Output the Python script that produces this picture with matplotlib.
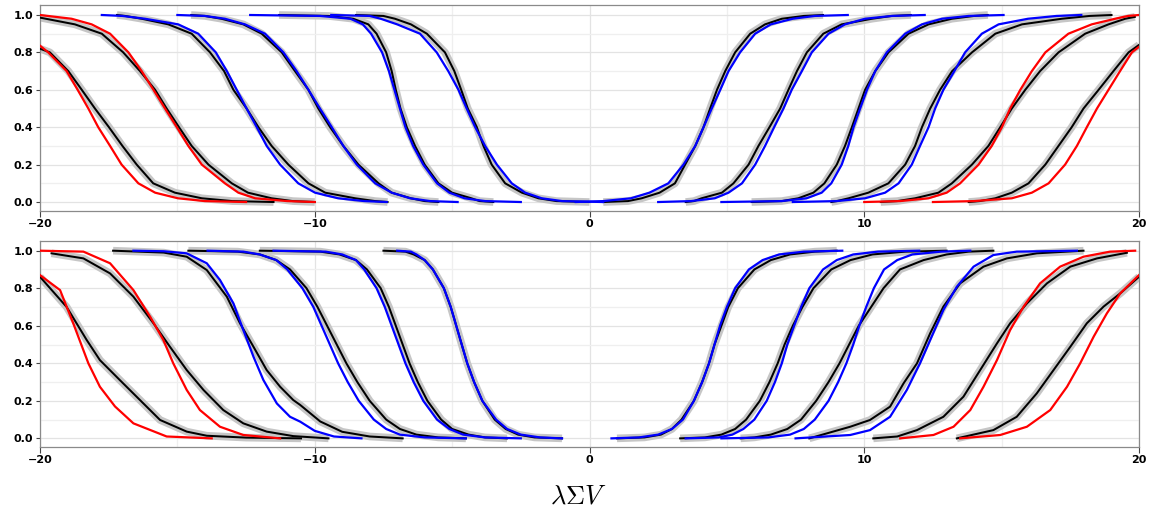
import matplotlib
matplotlib.use("Agg")
import matplotlib.pyplot as plt
from matplotlib.ticker import MultipleLocator

plt.rcParams['mathtext.fontset'] = 'cm'

# ---------------- data ----------------
DOWN = [1.0, 0.995, 0.98, 0.95, 0.9, 0.8, 0.7, 0.6, 0.5, 0.4, 0.3, 0.2, 0.1, 0.05, 0.02, 0.005, 0.0]
UP = DOWN[::-1]

# ---- top panel, left (decreasing) ----
top_red1_x = [-20.0, -19.70, -19.03, -18.63, -18.24, -17.88, -17.45, -17.03, -16.42, -15.81, -14.98, -14.0, -12.5]
top_red1_y = [0.836, 0.8, 0.7, 0.6, 0.5, 0.4, 0.3, 0.2, 0.1, 0.05, 0.02, 0.005, 0.0]
top_blk1_x = [-20.0, -19.64, -18.97, -18.48, -18.0, -17.49, -17.0, -16.48, -15.88, -15.09, -14.11, -13.0, -11.5]
top_blk1_y = [0.82, 0.8, 0.7, 0.6, 0.5, 0.4, 0.3, 0.2, 0.1, 0.05, 0.02, 0.005, 0.0]
top_red2_x = [-20.0, -18.85, -18.12, -17.45, -16.78, -16.30, -15.87, -15.45, -15.02, -14.6, -14.11, -13.27, -12.78, -12.17, -11.0, -10.0]
top_red2_y = [1.0, 0.98, 0.95, 0.9, 0.8, 0.7, 0.6, 0.5, 0.4, 0.3, 0.2, 0.1, 0.05, 0.02, 0.005, 0.0]
top_blk2_x = [-20.0, -18.73, -17.75, -16.97, -16.36, -15.81, -15.39, -14.94, -14.48, -13.87, -13.02, -12.43, -11.57, -10.8, -10.0]
top_blk2_y = [0.986, 0.95, 0.9, 0.8, 0.7, 0.6, 0.5, 0.4, 0.3, 0.2, 0.1, 0.05, 0.02, 0.005, 0.0]
top_blue3_x = [-17.75, -17.0, -16.18, -14.97, -14.24, -13.6, -13.2, -12.84, -12.48, -12.11, -11.75, -11.26, -10.6, -9.99, -9.15, -8.2, -7.38]
top_blk3_x = [-17.2, -16.9, -16.3, -15.33, -14.48, -13.81, -13.3, -12.96, -12.48, -12.05, -11.57, -10.96, -10.23, -9.62, -8.53, -7.8, -7.35]
top_blue4_x = [-15.0, -14.0, -13.27, -12.54, -11.81, -11.14, -10.66, -10.23, -9.81, -9.38, -8.96, -8.47, -7.8, -7.2, -6.53, -5.8, -4.8]
top_blk4_x = [-14.5, -14.0, -13.4, -12.6, -11.93, -11.2, -10.72, -10.23, -9.87, -9.44, -8.96, -8.41, -7.68, -7.2, -6.5, -6.0, -5.5]
top_blue5_x = [-12.35, -9.8, -8.7, -8.25, -7.95, -7.55, -7.3, -7.1, -6.9, -6.7, -6.42, -6.05, -5.55, -5.1, -4.55, -3.8, -2.5]
top_blk5_x = [-11.3, -9.5, -8.6, -8.05, -7.75, -7.4, -7.2, -7.05, -6.88, -6.65, -6.35, -6.0, -5.5, -5.0, -4.3, -4.0, -3.5]
top_blue6_x = [-9.4, -8.0, -7.6, -7.0, -6.17, -5.56, -5.14, -4.77, -4.47, -4.16, -3.8, -3.37, -2.83, -2.34, -1.74, -1.0, 0.5]
top_blk6_x = [-8.5, -7.5, -7.08, -6.5, -5.92, -5.26, -4.92, -4.67, -4.43, -4.1, -3.86, -3.56, -3.07, -2.46, -1.86, -1.2, 0.0]

# ---- top panel, right (increasing) ----
top_blue7_x = [-0.5, 0.5, 1.51, 2.18, 2.87, 3.42, 3.85, 4.15, 4.45, 4.76, 5.06, 5.48, 6.03, 6.6, 7.4, 8.2, 9.4]
top_blk7_x = [0.5, 1.4, 1.9, 2.55, 3.11, 3.48, 3.85, 4.15, 4.39, 4.64, 4.94, 5.3, 5.85, 6.39, 7.0, 7.8, 8.5]
top_blue8_x = [2.5, 3.7, 4.56, 5.06, 5.55, 6.03, 6.39, 6.72, 7.06, 7.36, 7.73, 8.09, 8.7, 9.3, 10.03, 11.0, 12.2]
top_blk8_x = [3.5, 3.8, 4.08, 4.82, 5.24, 5.79, 6.15, 6.55, 6.94, 7.24, 7.55, 7.91, 8.51, 9.18, 10.28, 11.0, 11.7]
top_blue9_x = [4.8, 7.0, 7.9, 8.45, 8.8, 9.18, 9.42, 9.61, 9.85, 10.1, 10.4, 10.82, 11.49, 12.1, 12.83, 13.8, 15.07]
top_blk9_x = [5.9, 7.0, 7.6, 8.15, 8.55, 9.0, 9.3, 9.55, 9.79, 10.03, 10.4, 10.88, 11.61, 12.34, 13.19, 14.0, 14.5]
top_blue10_x = [7.4, 9.0, 10.03, 10.76, 11.25, 11.73, 12.03, 12.34, 12.58, 12.88, 13.28, 13.67, 14.28, 14.89, 15.96, 17.0, 17.9]
top_blk10_x = [8.8, 9.0, 9.43, 10.15, 10.88, 11.49, 11.85, 12.1, 12.4, 12.76, 13.2, 13.92, 14.77, 15.74, 17.19, 18.2, 19.0]
top_red11_x = [10.0, 11.3, 12.34, 13.0, 13.49, 14.16, 14.64, 15.01, 15.31, 15.68, 16.1, 16.59, 17.43, 18.28, 19.13, 19.6, 20.0]
top_blk11_x = [10.6, 11.2, 11.85, 12.7, 13.19, 13.92, 14.52, 14.95, 15.37, 15.86, 16.4, 17.07, 18.04, 18.89, 19.5, 19.85]
top_blk11_y = [0.0, 0.005, 0.02, 0.05, 0.1, 0.2, 0.3, 0.4, 0.5, 0.6, 0.7, 0.8, 0.9, 0.95, 0.98, 0.99]
top_red12_x = [12.5, 14.0, 15.37, 16.1, 16.71, 17.31, 17.74, 18.1, 18.47, 18.89, 19.31, 19.74, 20.0]
top_red12_y = [0.0, 0.005, 0.02, 0.05, 0.1, 0.2, 0.3, 0.4, 0.5, 0.6, 0.7, 0.8, 0.83]
top_blk12_x = [13.8, 14.2, 14.77, 15.37, 15.98, 16.59, 17.07, 17.55, 17.98, 18.53, 19.07, 19.62, 20.0]
top_blk12_y = [0.0, 0.005, 0.02, 0.05, 0.1, 0.2, 0.3, 0.4, 0.5, 0.6, 0.7, 0.8, 0.84]

# ---- bottom panel, left (decreasing) ----
bot_red1_x = [-20.0, -19.27, -18.79, -18.24, -17.82, -17.27, -16.6, -15.39, -13.75]
bot_red1_y = [0.87, 0.79, 0.613, 0.4, 0.275, 0.17, 0.08, 0.01, 0.0]
bot_blk1_x = [-20.0, -19.03, -18.3, -17.82, -17.09, -16.36, -15.63, -14.66, -13.93, -12.5, -10.5]
bot_blk1_y = [0.861, 0.70, 0.524, 0.417, 0.31, 0.204, 0.098, 0.036, 0.014, 0.004, 0.0]
bot_red2_x = [-20.0, -18.42, -17.45, -16.6, -15.99, -15.51, -15.15, -14.66, -14.18, -13.45, -12.6, -11.26]
bot_red2_y = [1.0, 0.995, 0.933, 0.79, 0.648, 0.524, 0.4, 0.258, 0.151, 0.062, 0.018, 0.0]
bot_blk2_x = [-19.58, -18.42, -17.45, -16.6, -15.87, -15.27, -14.66, -14.05, -13.33, -12.6, -11.75, -10.78, -9.5]
bot_blk2_y = [0.986, 0.959, 0.879, 0.755, 0.613, 0.488, 0.364, 0.258, 0.151, 0.08, 0.036, 0.012, 0.0]
bot_blue3_x = [-16.6, -15.5, -14.66, -13.93, -13.45, -12.96, -12.6, -12.23, -11.87, -11.38, -10.9, -10.53, -10.0, -9.3, -8.3]
bot_blue3_y = [1.0, 0.997, 0.986, 0.933, 0.844, 0.719, 0.577, 0.435, 0.311, 0.186, 0.115, 0.089, 0.04, 0.01, 0.0]
bot_blk3_x = [-17.34, -15.5, -14.66, -13.93, -13.2, -12.72, -12.23, -11.75, -11.26, -10.78, -10.53, -9.8, -9.0, -8.0, -6.8]
bot_blk3_y = [1.0, 0.99, 0.968, 0.897, 0.755, 0.613, 0.488, 0.364, 0.275, 0.204, 0.178, 0.09, 0.035, 0.01, 0.0]
bot_blue4_x = [-13.9, -12.6, -12.0, -11.4, -11.0, -10.45, -10.05, -9.75, -9.45, -9.15, -8.8, -8.4, -7.85, -7.4, -6.9, -6.0, -4.5]
bot_blk4_x = [-14.6, -12.8, -12.0, -11.4, -10.9, -10.3, -9.9, -9.55, -9.2, -8.85, -8.45, -8.0, -7.4, -6.9, -6.3, -5.5, -4.5]
bot_blue5_x = [-11.5, -9.6, -9.0, -8.5, -8.2, -7.75, -7.45, -7.2, -6.95, -6.7, -6.4, -6.05, -5.55, -5.1, -4.6, -3.8, -2.5]
bot_blk5_x = [-12.0, -9.8, -9.1, -8.5, -8.1, -7.6, -7.3, -7.05, -6.8, -6.55, -6.25, -5.9, -5.4, -5.0, -4.4, -3.8, -3.0]
bot_blue6_x = [-7.0, -6.5, -6.3, -6.0, -5.7, -5.3, -5.05, -4.85, -4.65, -4.45, -4.2, -3.9, -3.4, -3.0, -2.5, -1.8, -1.0]
bot_blk6_x = [-7.5, -6.7, -6.4, -6.0, -5.7, -5.3, -5.05, -4.85, -4.65, -4.45, -4.2, -3.9, -3.45, -3.05, -2.6, -2.0, -1.0]

# ---- bottom panel, right (increasing) ----
bot_blue7_x = [0.8, 1.8, 2.5, 3.0, 3.4, 3.8, 4.1, 4.35, 4.55, 4.75, 5.0, 5.3, 5.8, 6.3, 6.9, 7.8, 9.2]
bot_blk7_x = [1.0, 2.0, 2.6, 3.0, 3.35, 3.8, 4.1, 4.35, 4.55, 4.8, 5.05, 5.4, 6.0, 6.6, 7.3, 8.2, 9.0]
bot_blue8_x = [3.5, 4.7, 5.2, 5.6, 6.0, 6.45, 6.75, 7.0, 7.2, 7.45, 7.7, 8.0, 8.5, 9.0, 9.6, 10.5, 12.0]
bot_blk8_x = [3.3, 4.2, 4.8, 5.3, 5.7, 6.2, 6.55, 6.85, 7.1, 7.4, 7.75, 8.15, 8.8, 9.5, 10.3, 11.5, 13.0]
bot_blue9_x = [4.8, 6.5, 7.3, 7.8, 8.2, 8.7, 9.05, 9.35, 9.6, 9.82, 10.07, 10.35, 10.72, 11.2, 11.75, 12.8, 13.86]
bot_blk9_x = [5.5, 6.0, 6.6, 7.2, 7.7, 8.25, 8.7, 9.1, 9.45, 9.8, 10.25, 10.7, 11.3, 12.16, 13.0, 13.8, 14.7]
bot_blue10_x = [7.5, 9.49, 10.21, 10.94, 11.55, 12.03, 12.4, 12.88, 13.37, 13.98, 14.7, 15.55, 17.74]
bot_blue10_y = [0.0, 0.018, 0.044, 0.115, 0.258, 0.4, 0.524, 0.684, 0.808, 0.915, 0.977, 0.995, 1.0]
bot_blk10_x = [8.0, 9.49, 10.21, 10.94, 11.43, 11.92, 12.4, 12.88, 13.49, 14.34, 15.19, 16.28, 17.98]
bot_blk10_y = [0.0, 0.062, 0.098, 0.169, 0.293, 0.4, 0.56, 0.702, 0.826, 0.915, 0.959, 0.986, 1.0]
bot_red11_x = [11.31, 12.52, 13.25, 13.86, 14.34, 14.83, 15.31, 15.8, 16.4, 17.13, 17.98, 18.95, 19.86]
bot_red11_y = [0.0, 0.018, 0.062, 0.151, 0.275, 0.417, 0.577, 0.702, 0.826, 0.915, 0.968, 0.995, 1.0]
bot_blk11_x = [10.33, 11.2, 11.92, 12.88, 13.61, 14.22, 14.83, 15.31, 15.92, 16.65, 17.5, 18.47, 19.56]
bot_blk11_y = [0.0, 0.01, 0.044, 0.115, 0.222, 0.364, 0.506, 0.613, 0.719, 0.826, 0.915, 0.959, 0.989]
bot_red12_x = [13.49, 14.95, 15.92, 16.77, 17.38, 17.86, 18.35, 18.83, 19.32, 20.0]
bot_red12_y = [0.0, 0.018, 0.062, 0.151, 0.275, 0.4, 0.542, 0.666, 0.773, 0.87]
bot_blk12_x = [13.37, 14.7, 15.55, 16.28, 16.89, 17.5, 18.1, 18.71, 19.32, 20.0]
bot_blk12_y = [0.0, 0.044, 0.115, 0.24, 0.364, 0.488, 0.613, 0.702, 0.773, 0.861]

x_ticks = [-20, -10, 0, 10, 20]
x_ticklabels = ['\u221220', '\u221210', '0', '10', '20']
y_ticks = [0.0, 0.2, 0.4, 0.6, 0.8, 1.0]
y_ticklabels = ['0.0', '0.2', '0.4', '0.6', '0.8', '1.0']

top_pairs = [
    ('red', (top_red1_x, top_red1_y), (top_blk1_x, top_blk1_y)),
    ('red', (top_red2_x, top_red2_y), (top_blk2_x, top_blk2_y)),
    ('blue', (top_blue3_x, DOWN), (top_blk3_x, DOWN)),
    ('blue', (top_blue4_x, DOWN), (top_blk4_x, DOWN)),
    ('blue', (top_blue5_x, DOWN), (top_blk5_x, DOWN)),
    ('blue', (top_blue6_x, DOWN), (top_blk6_x, DOWN)),
    ('blue', (top_blue7_x, UP), (top_blk7_x, UP)),
    ('blue', (top_blue8_x, UP), (top_blk8_x, UP)),
    ('blue', (top_blue9_x, UP), (top_blk9_x, UP)),
    ('blue', (top_blue10_x, UP), (top_blk10_x, UP)),
    ('red', (top_red11_x, UP), (top_blk11_x, top_blk11_y)),
    ('red', (top_red12_x, top_red12_y), (top_blk12_x, top_blk12_y)),
]
bot_pairs = [
    ('red', (bot_red1_x, bot_red1_y), (bot_blk1_x, bot_blk1_y)),
    ('red', (bot_red2_x, bot_red2_y), (bot_blk2_x, bot_blk2_y)),
    ('blue', (bot_blue3_x, bot_blue3_y), (bot_blk3_x, bot_blk3_y)),
    ('blue', (bot_blue4_x, DOWN), (bot_blk4_x, DOWN)),
    ('blue', (bot_blue5_x, DOWN), (bot_blk5_x, DOWN)),
    ('blue', (bot_blue6_x, DOWN), (bot_blk6_x, DOWN)),
    ('blue', (bot_blue7_x, UP), (bot_blk7_x, UP)),
    ('blue', (bot_blue8_x, UP), (bot_blk8_x, UP)),
    ('blue', (bot_blue9_x, UP), (bot_blk9_x, UP)),
    ('blue', (bot_blue10_x, bot_blue10_y), (bot_blk10_x, bot_blk10_y)),
    ('red', (bot_red11_x, bot_red11_y), (bot_blk11_x, bot_blk11_y)),
    ('red', (bot_red12_x, bot_red12_y), (bot_blk12_x, bot_blk12_y)),
]

# ---------------- figure ----------------
fig = plt.figure(figsize=(11.5, 5.16), dpi=100)
ax_top = fig.add_axes([40 / 1150, 1 - 211 / 516, (1139 - 40) / 1150, 206 / 516])
ax_bot = fig.add_axes([40 / 1150, 1 - 447 / 516, (1139 - 40) / 1150, 205.5 / 516])

COLORS = {'red': '#ff0000', 'blue': '#0000ff'}


def style(ax, ylim):
    ax.set_xlim(-20, 20)
    ax.set_ylim(*ylim)
    ax.set_xticks(x_ticks)
    ax.set_xticklabels(x_ticklabels)
    ax.set_yticks(y_ticks)
    ax.set_yticklabels(y_ticklabels)
    ax.xaxis.set_minor_locator(MultipleLocator(5))
    ax.yaxis.set_minor_locator(MultipleLocator(0.1))
    ax.grid(which='major', color='#e3e3e3', lw=0.9)
    ax.grid(which='minor', color='#efefef', lw=0.9)
    ax.set_axisbelow(True)
    for s in ax.spines.values():
        s.set_color('#8a8a8a')
        s.set_linewidth(0.9)
    ax.tick_params(axis='both', which='major', labelsize=8, length=4, width=0.8,
                   color='#444444', pad=2)
    ax.tick_params(axis='both', which='minor', length=0)
    ax.tick_params(axis='y', length=3)
    for lab in ax.get_xticklabels() + ax.get_yticklabels():
        lab.set_fontweight('bold')


def draw(ax, pairs):
    for color, (tx, ty), (bx, by) in pairs:
        ax.plot(bx, by, color='#c6c6c6', lw=5.5, solid_capstyle='butt',
                solid_joinstyle='round', zorder=2)
    for color, (tx, ty), (bx, by) in pairs:
        ax.plot(bx, by, color='black', lw=1.45, solid_joinstyle='round', zorder=3)
    for color, (tx, ty), (bx, by) in pairs:
        ax.plot(tx, ty, color=COLORS[color], lw=1.6, solid_joinstyle='round', zorder=4)


draw(ax_top, top_pairs)
draw(ax_bot, bot_pairs)
style(ax_top, (-0.048, 1.0535))
style(ax_bot, (-0.046, 1.049))

fig.text(578 / 1150, 1 - 497 / 516, r'$\lambda\Sigma V$', fontsize=19,
         ha='center', va='center')

fig.savefig('out.png', dpi=100)
